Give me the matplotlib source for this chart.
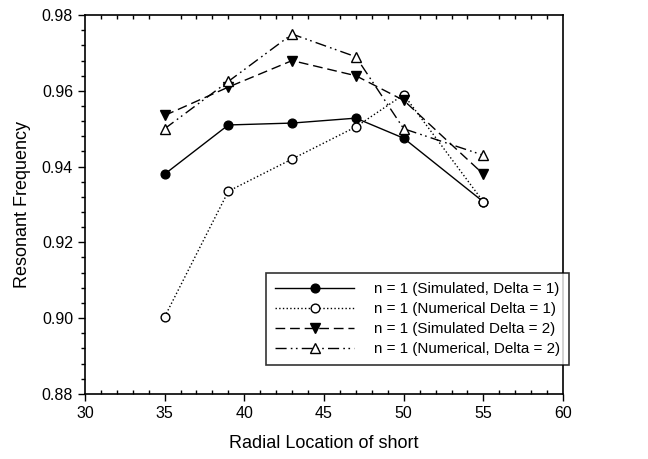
import numpy as np
import matplotlib.pyplot as plt
from matplotlib.ticker import MultipleLocator, FormatStrFormatter

plt.rcParams['font.family'] = ['Liberation Sans', 'DejaVu Sans']

# radial location of the short
x_loc = [35, 39, 43, 47, 50, 55]

# resonant frequencies
sim_d1 = [0.938, 0.951, 0.9515, 0.9528, 0.9475, 0.9307]
num_d1 = [0.9003, 0.9335, 0.942, 0.9505, 0.959, 0.9307]
sim_d2 = [0.9535, 0.961, 0.968, 0.964, 0.9575, 0.938]
num_d2 = [0.950, 0.9625, 0.975, 0.969, 0.950, 0.943]

labels = [
    "n = 1 (Simulated, Delta = 1)",
    "n = 1 (Numerical Delta = 1)",
    "n = 1 (Simulated Delta = 2)",
    "n = 1 (Numerical, Delta = 2)",
]

fig = plt.figure(figsize=(6.48, 4.59), dpi=100)
ax = fig.add_axes([0.131, 0.142, 0.738, 0.825])

ms = 6.3
ax.plot(x_loc, sim_d1, '-', color='black', lw=1.0, marker='o', ms=ms,
        mfc='black', mec='black', label=labels[0])
ax.plot(x_loc, num_d1, ':', color='black', lw=1.0, marker='o', ms=ms,
        mfc='white', mec='black', label=labels[1])
ax.plot(x_loc, sim_d2, color='black', lw=1.0, dashes=(7, 3.5), marker='v', ms=ms + 0.7,
        mfc='black', mec='black', label=labels[2])
ax.plot(x_loc, num_d2, color='black', lw=1.0, dashes=(8, 3, 1.2, 2.5, 1.2, 3), marker='^',
        ms=ms + 0.7, mfc='white', mec='black', label=labels[3])

ax.set_xlim(30, 60)
ax.set_ylim(0.88, 0.98)
ax.xaxis.set_major_locator(MultipleLocator(5))
ax.xaxis.set_minor_locator(MultipleLocator(1))
ax.yaxis.set_major_locator(MultipleLocator(0.02))
ax.yaxis.set_minor_locator(MultipleLocator(0.004))
ax.yaxis.set_major_formatter(FormatStrFormatter('%.2f'))

for sp in ax.spines.values():
    sp.set_linewidth(1.2)

ax.tick_params(axis='both', which='major', direction='out', length=5, width=1.0,
               labelsize=11.5, colors='black')
ax.tick_params(axis='x', which='minor', direction='in', length=3, width=1.0,
               top=True)
ax.tick_params(axis='y', which='minor', direction='out', length=3, width=1.0)
ax.tick_params(axis='x', which='major', top=False)

ax.set_xlabel("Radial Location of short", fontsize=13, labelpad=10)
ax.set_ylabel("Resonant Frequency", fontsize=13, labelpad=8)

leg = ax.legend(loc='lower right', bbox_to_anchor=(1.012, 0.075), fontsize=10.9,
                frameon=True, fancybox=False, handlelength=5.2, borderpad=0.6,
                labelspacing=0.4, handletextpad=1.3, borderaxespad=0.0)
leg.get_frame().set_edgecolor('black')
leg.get_frame().set_linewidth(1.2)

fig.savefig('out.png', dpi=100)
